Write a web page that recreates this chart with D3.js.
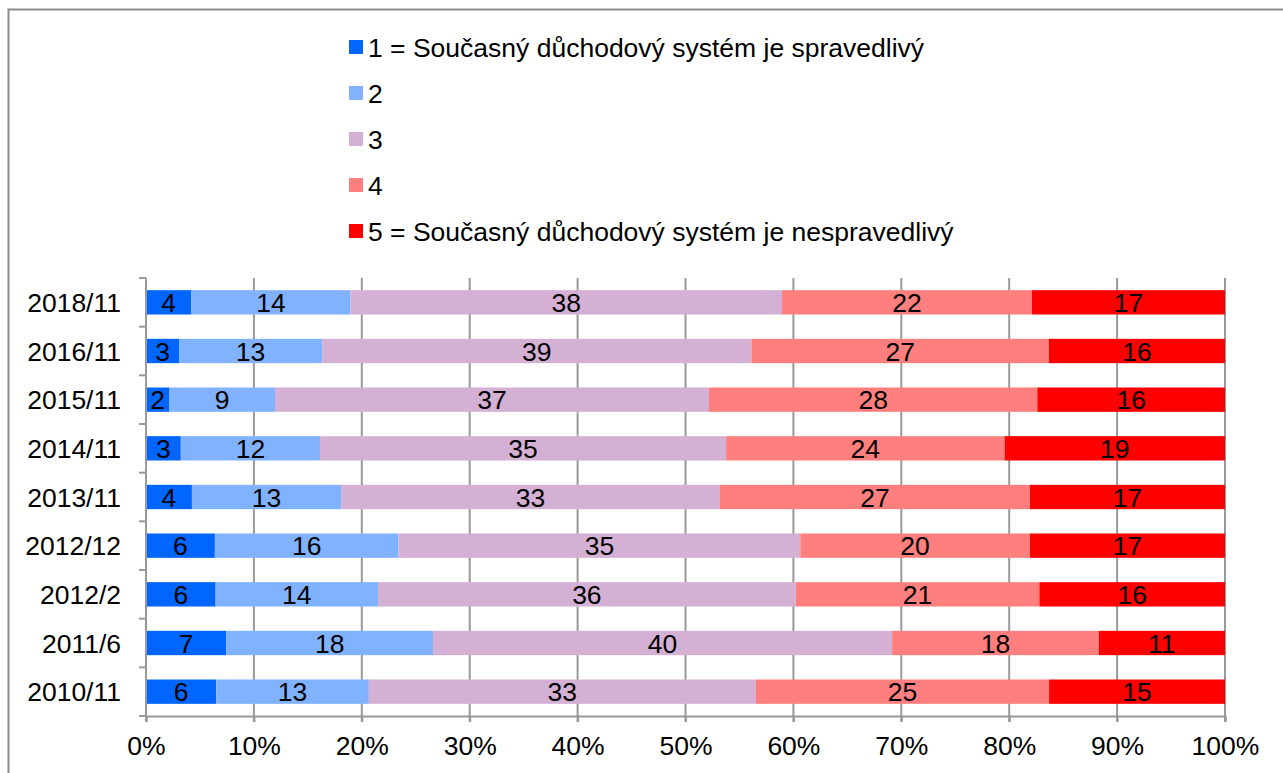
<!DOCTYPE html>
<html>
<head>
<meta charset="utf-8">
<script src="https://cdn.jsdelivr.net/npm/d3@7"></script>
<style>
  body { margin: 0; background: #fff; }
  text { font-family: "Liberation Sans", Arial, sans-serif; }
</style>
</head>
<body>
<div id="chart"></div>
<script>
// data
var periods = ["2018/11", "2016/11", "2015/11", "2014/11", "2013/11", "2012/12", "2012/2", "2011/6", "2010/11"];
var answers = ["1 = Současný důchodový systém je spravedlivý", "2", "3", "4", "5 = Současný důchodový systém je nespravedlivý"];
var v1 = [4, 3, 2, 3, 4, 6, 6, 7, 6];
var v2 = [14, 13, 9, 12, 13, 16, 14, 18, 13];
var v3 = [38, 39, 37, 35, 33, 35, 36, 40, 33];
var v4 = [22, 27, 28, 24, 27, 20, 21, 18, 25];
var v5 = [17, 16, 16, 19, 17, 17, 16, 11, 15];
var colors = ["#0066ff", "#80b2ff", "#d4b0d4", "#ff7f7f", "#ff0000"];

var W = 1283, H = 773, FS = 26.5;
var margin = {top: 278, right: 58, bottom: 57, left: 146},
    width = W - margin.left - margin.right,
    height = H - margin.top - margin.bottom;

var svg = d3.select("#chart").append("svg")
    .attr("width", W)
    .attr("height", H);

// outer frame
svg.append("rect")
    .attr("x", 8.5).attr("y", 9.5)
    .attr("width", W + 10).attr("height", H + 10)
    .attr("fill", "none")
    .attr("stroke", "#8c8c8c")
    .attr("stroke-width", 2);

var g = svg.append("g")
    .attr("transform", "translate(" + margin.left + "," + margin.top + ")");

// build rows, normalised to 100 %
var series = [v1, v2, v3, v4, v5];
var rows = periods.map(function(p, i) {
    var r = {period: p};
    answers.forEach(function(a, k) { r[k] = series[k][i]; });
    return r;
});
rows.forEach(function(r) {
    var tot = 0;
    for (var k = 0; k < 5; k++) tot += r[k];
    r.total = tot;
});

var stack = d3.stack().keys([0, 1, 2, 3, 4])
    .value(function(d, k) { return d[k] / d.total; });
var stacked = stack(rows);

var x = d3.scaleLinear().domain([0, 1]).range([0, width]);
var y = d3.scaleBand().domain(periods).range([0, height]).paddingInner(0.5).paddingOuter(0.25);

// grid lines
g.append("g")
    .selectAll("line")
    .data(x.ticks(10))
    .enter().append("line")
    .attr("x1", function(d) { return x(d); })
    .attr("x2", function(d) { return x(d); })
    .attr("y1", 0).attr("y2", height + 6)
    .attr("stroke", "#999")
    .attr("stroke-width", 2);

// bars
var layer = g.selectAll(".layer")
    .data(stacked)
    .enter().append("g")
    .attr("fill", function(d) { return colors[d.key]; });

layer.selectAll("rect")
    .data(function(d) { return d; })
    .enter().append("rect")
    .attr("x", function(d) { return x(d[0]); })
    .attr("y", function(d) { return y(d.data.period); })
    .attr("width", function(d) { return x(d[1]) - x(d[0]); })
    .attr("height", y.bandwidth());

// value labels
stacked.forEach(function(s) {
    g.append("g").selectAll("text")
        .data(s)
        .enter().append("text")
        .attr("x", function(d) { return (x(d[0]) + x(d[1])) / 2; })
        .attr("y", function(d) { return y(d.data.period) + y.bandwidth() / 2; })
        .attr("dy", "0.36em")
        .attr("text-anchor", "middle")
        .attr("font-size", FS)
        .attr("fill", "#000")
        .text(function(d) { return d.data[s.key]; });
});

// x axis
var xAxis = g.append("g")
    .attr("transform", "translate(0," + height + ")")
    .call(d3.axisBottom(x).ticks(10).tickFormat(d3.format(".0%")).tickSize(6).tickPadding(14));
xAxis.selectAll("text").attr("font-size", FS).attr("fill", "#000")
    .style("font-family", "Liberation Sans, Arial, sans-serif");
xAxis.selectAll("line, path").attr("stroke", "#999").attr("stroke-width", 2);

// y axis with ticks at band boundaries
var bounds = d3.range(periods.length + 1).map(function(i) { return i * height / periods.length; });
g.append("line")
    .attr("x1", 0).attr("x2", 0).attr("y1", 0).attr("y2", height)
    .attr("stroke", "#999").attr("stroke-width", 2);
g.append("g").selectAll("line")
    .data(bounds)
    .enter().append("line")
    .attr("x1", -7).attr("x2", 0)
    .attr("y1", function(d) { return d; }).attr("y2", function(d) { return d; })
    .attr("stroke", "#999").attr("stroke-width", 2);
g.append("g").selectAll("text")
    .data(periods)
    .enter().append("text")
    .attr("x", -25)
    .attr("y", function(d) { return y(d) + y.bandwidth() / 2; })
    .attr("dy", "0.36em")
    .attr("text-anchor", "end")
    .attr("font-size", FS)
    .text(function(d) { return d; });

// legend
var legend = svg.append("g").attr("transform", "translate(349,40)");
var item = legend.selectAll("g")
    .data(answers)
    .enter().append("g")
    .attr("transform", function(d, i) { return "translate(0," + (i * 46) + ")"; });
item.append("rect")
    .attr("width", 14).attr("height", 14)
    .attr("fill", function(d, i) { return colors[i]; });
item.append("text")
    .attr("x", 19).attr("y", 7)
    .attr("dy", "0.36em")
    .attr("font-size", FS)
    .text(function(d) { return d; });
</script>
</body>
</html>
